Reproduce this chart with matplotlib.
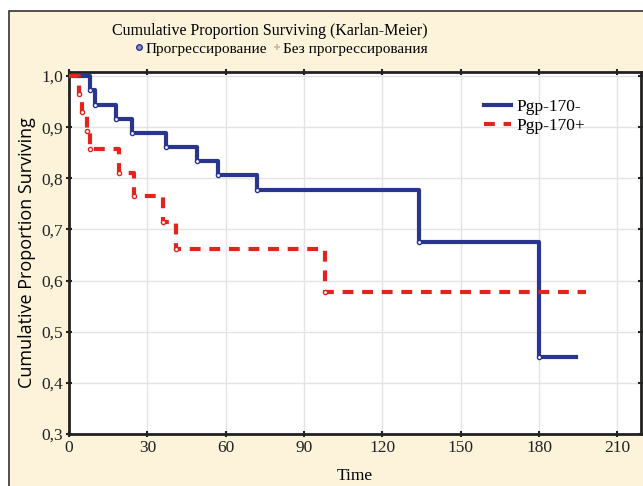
import numpy as np
import matplotlib
matplotlib.use("Agg")
from matplotlib import pyplot as plt
from matplotlib.lines import Line2D
from matplotlib.patches import Rectangle
from matplotlib.ticker import FuncFormatter

# Kaplan-Meier steps
neg_times = [0, 8, 10, 18, 24, 37, 49, 57, 72, 134, 180]
neg_surv = [1.0, 0.972, 0.944, 0.917, 0.889, 0.861, 0.833, 0.806, 0.778, 0.675, 0.45]
neg_end = 194

pos_times = [0, 4, 5, 7, 8, 19, 25, 36, 41, 98]
pos_surv = [1.0, 0.964, 0.929, 0.893, 0.857, 0.81, 0.765, 0.714, 0.661, 0.578]
pos_end = 198

x_ticks = [0, 30, 60, 90, 120, 150, 180, 210]
y_ticks = [0.3, 0.4, 0.5, 0.6, 0.7, 0.8, 0.9, 1.0]

title = "Cumulative Proportion Surviving (Karlan-Meier)"
sub_labels = ["Прогрессирование", "Без прогрессирования"]
series_labels = ["Pgp-170-", "Pgp-170+"]

blue = "#2a3590"
red = "#e3241c"
cream = "#fcf3da"
serif = "Liberation Serif"

fig = plt.figure(figsize=(6.43, 4.86), dpi=100)
fig.patch.set_facecolor("white")
fig.patches.append(Rectangle((9 / 643, -0.05), 1.2, 1 - 11 / 486 + 0.05,
                             transform=fig.transFigure, facecolor=cream,
                             edgecolor="#333333", lw=1.2, zorder=-10))

ax = fig.add_axes([69 / 643, 1 - 434 / 486, (641 - 69) / 643, (434 - 72) / 486])
ax.set_facecolor("white")


def steps(times, surv, end):
    return list(times) + [end], list(surv) + [surv[-1]]


tx, sy = steps(neg_times, neg_surv, neg_end)
ax.step(tx, sy, where="post", color=blue, lw=3, label=series_labels[0], zorder=3)
ax.plot(neg_times[1:], neg_surv[1:], "o", ms=3, mfc="white", mec=blue, mew=1, zorder=4)

tx, sy = steps(pos_times, pos_surv, pos_end)
ax.step(tx, sy, where="post", color=red, lw=3, dashes=(2.6, 2.1), label=series_labels[1], zorder=3)
ax.plot(pos_times[1:], pos_surv[1:], "o", ms=3, mfc="white", mec=red, mew=1, zorder=4)

ax.set_xlim(0, 219)
ax.set_ylim(0.3, 1.008)
ax.set_xticks(x_ticks)
ax.set_yticks(y_ticks)
ax.yaxis.set_major_formatter(FuncFormatter(lambda v, p: ("%.1f" % v).replace(".", ",")))
ax.grid(True, color="#e4e4e4", lw=1)
ax.set_axisbelow(True)
ax.tick_params(direction="inout", length=4, width=1.5, top=True, right=True,
               labelsize=12.5, colors="#222222", pad=2)
for lab in ax.get_xticklabels() + ax.get_yticklabels():
    lab.set_fontfamily(serif)
for s in ax.spines.values():
    s.set_linewidth(2)
    s.set_color("#222222")

ax.set_xlabel("Time", fontfamily=serif, fontsize=12.5, labelpad=9)
ax.set_ylabel("Cumulative Proportion Surviving", fontfamily="Open Sans", fontsize=13, labelpad=4)

ax.legend(loc="upper right", bbox_to_anchor=(0.93, 0.97), frameon=False,
          prop={"family": serif, "size": 12.5}, handlelength=1.6, handletextpad=0.3,
          labelspacing=0.2)

fig.text(0.42, 1 - 31 / 486, title, ha="center", va="center", fontfamily=serif, fontsize=11.5)
handles = [Line2D([], [], ls="none", marker="o", ms=4, mfc="#8a8fd0", mec=blue, mew=1),
           Line2D([], [], ls="none", marker="+", ms=5, mec="#c9b9a8", mew=1.2)]
fig.legend(handles, sub_labels, loc="center", bbox_to_anchor=(0.438, 1 - 49 / 486), ncol=2,
           frameon=False, prop={"family": serif, "size": 11}, handlelength=0.5,
           handletextpad=0.15, columnspacing=0.4)

fig.savefig("out.png", dpi=100, facecolor=fig.get_facecolor())
